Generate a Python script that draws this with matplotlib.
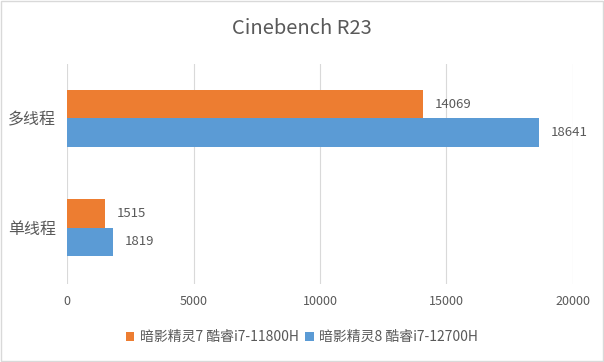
import matplotlib
matplotlib.use("Agg")
import matplotlib.pyplot as plt
from matplotlib.patches import Rectangle

plt.rcParams['font.family'] = ['Noto Sans CJK SC', 'DejaVu Sans']

categories = ['单线程', '多线程']
series_names = ['暗影精灵7 酷睿i7-11800H', '暗影精灵8 酷睿i7-12700H']
series_a = [1515, 14069]
series_b = [1819, 18641]
colors = ['#ED7D31', '#5B9BD5']
xticks = [0, 5000, 10000, 15000, 20000]

text_color = '#595959'
fig = plt.figure(figsize=(6.04, 3.62), dpi=100)
ax = fig.add_axes([67/604, 1-284/362, (573-67)/604, (284-64)/362])

h = 0.26
ys = list(range(len(categories)))
b1 = ax.barh([y + h/2 for y in ys], series_a, height=h, color=colors[0], label=series_names[0], zorder=3)
b2 = ax.barh([y - h/2 for y in ys], series_b, height=h, color=colors[1], label=series_names[1], zorder=3)
for bars in (b1, b2):
    ax.bar_label(bars, labels=[str(v.get_width()) for v in bars], padding=8.5,
                 fontsize=9.5, color=text_color)

ax.set_xlim(0, 20000)
ax.set_ylim(-0.515, 1.496)
ax.set_xticks(xticks)
ax.set_xticklabels([str(t) for t in xticks], fontsize=9, color=text_color)
ax.set_yticks(ys)
ax.set_yticklabels(categories, fontsize=11.5, color=text_color)
ax.tick_params(axis='both', length=0)
ax.tick_params(axis='x', pad=8)
ax.tick_params(axis='y', pad=8)
ax.grid(axis='x', color='#D9D9D9', linewidth=0.8, zorder=0)
for s in ax.spines.values():
    s.set_visible(False)

fig.text(0.5, 1-28/362, 'Cinebench R23', ha='center', va='center', fontsize=14.5, color=text_color)
fig.legend(loc='center', bbox_to_anchor=(0.5, 1-337/362), ncol=2, frameon=False,
           fontsize=10, handlelength=0.6, handleheight=0.6, handletextpad=0.4,
           columnspacing=0.5, labelcolor=text_color)
fig.patches.append(Rectangle((0.002, 0.003), 0.996, 0.994, transform=fig.transFigure,
                             fill=False, edgecolor='#D9D9D9', linewidth=1))
fig.savefig('out.png', dpi=100)
